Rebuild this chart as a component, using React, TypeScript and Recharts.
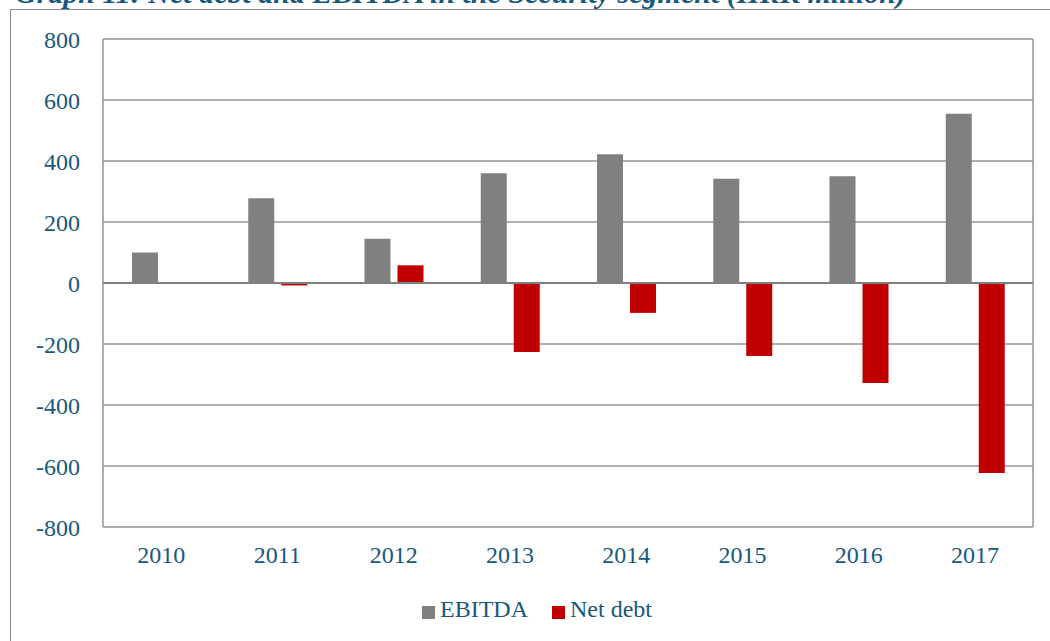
import { BarChart, Bar, XAxis, YAxis, CartesianGrid, ReferenceLine } from "recharts";

const years = ["2010", "2011", "2012", "2013", "2014", "2015", "2016", "2017"];
const ebitda = [100, 278, 145, 360, 422, 342, 350, 555];
const netDebt = [0, -8, 58, -226, -98, -239, -328, -623];
const yTicks = [-800, -600, -400, -200, 0, 200, 400, 600, 800];

const data = years.map((year, i) => ({ year, ebitda: ebitda[i], netDebt: netDebt[i] }));

const textColor = "#17587f";
const font = "'Liberation Serif', serif";

export default function App() {
  return (
    <div style={{ position: "fixed", left: 0, top: 0, width: 1050, height: 641, overflow: "hidden", background: "#fff", fontFamily: font }}>
      {/* title sits above the top edge, as in the source screenshot */}
      <div
        style={{
          position: "absolute", left: 15, top: -22, fontSize: 30, lineHeight: 1, whiteSpace: "nowrap",
          fontWeight: "bold", fontStyle: "italic", color: textColor,
        }}
      >
        Graph 11: Net debt and EBITDA in the Security segment (HRK million)
      </div>
      <div style={{ position: "absolute", left: 10, top: 9, width: 1100, height: 700, border: "1px solid #8c8c8c", borderRight: "none", borderBottom: "none" }} />
      <div style={{ position: "absolute", left: 0, top: 0 }}>
        <BarChart width={1050} height={641} data={data} margin={{ top: 39, right: 17, left: 0, bottom: 0 }} barGap={7}>
          <CartesianGrid
            stroke="#959595"
            strokeWidth={1.5}
            verticalCoordinatesGenerator={({ offset }: any) => [offset.left, offset.left + offset.width]}
          />
          <XAxis
            dataKey="year"
            height={114}
            axisLine={false}
            tickLine={false}
            tickSize={0}
            tickMargin={19}
            tick={{ fontSize: 24, fill: textColor, fontFamily: font }}
          />
          <YAxis
            width={103}
            domain={[-800, 800]}
            ticks={yTicks}
            axisLine={false}
            tickLine={false}
            tickSize={0}
            tickMargin={23}
            tick={{ fontSize: 24, fill: textColor, fontFamily: font }}
          />
          <ReferenceLine y={0} stroke="#7f7f7f" strokeWidth={2} />
          <Bar dataKey="ebitda" name="EBITDA" fill="#808080" barSize={26} isAnimationActive={false} />
          <Bar dataKey="netDebt" name="Net debt" fill="#c00000" barSize={26} isAnimationActive={false} />
        </BarChart>
      </div>
      <div style={{ position: "absolute", left: 422, top: 596, display: "flex", alignItems: "center", fontSize: 24, color: textColor }}>
        <span style={{ width: 13, height: 13, background: "#808080", display: "inline-block", marginRight: 5, marginTop: 5 }} />
        <span>EBITDA</span>
        <span style={{ width: 13, height: 13, background: "#c00000", display: "inline-block", marginLeft: 24, marginRight: 5, marginTop: 5 }} />
        <span>Net debt</span>
      </div>
    </div>
  );
}
